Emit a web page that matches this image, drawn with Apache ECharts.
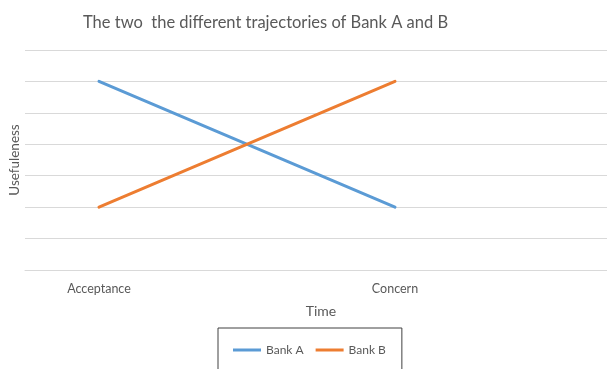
<!DOCTYPE html>
<html>
<head>
<meta charset="utf-8">
<script src="https://cdn.jsdelivr.net/npm/echarts@6/dist/echarts.min.js"></script>
<style>
html,body{margin:0;padding:0;background:#fff;overflow:hidden;width:607px;height:369px;}
#chart{width:617px;height:369px;}
</style>
</head>
<body>
<div id="chart"></div>
<script>
var categories = ["Acceptance", "", "Concern", ""];
var bankA = [6, null, 2, null];
var bankB = [2, null, 6, null];
var seriesNames = ["Bank A", "Bank B"];
var titleText = "The two  the different trajectories of Bank A and B";

var chart = echarts.init(document.getElementById('chart'), null, {renderer: 'canvas'});
var font = 'Lato, "Open Sans", sans-serif';
chart.setOption({
  animation: false,
  backgroundColor: '#ffffff',
  title: {
    text: titleText,
    left: 78,
    top: 9,
    textStyle: {fontFamily: font, fontSize: 16.5, fontWeight: 'normal', color: '#595959'}
  },
  legend: {
    data: seriesNames,
    left: 218,
    top: 328,
    padding: [16, 16, 25, 15],
    borderColor: '#404040',
    borderWidth: 1,
    icon: 'rect',
    itemWidth: 28,
    itemHeight: 3,
    itemGap: 12,
    textStyle: {fontFamily: font, fontSize: 12, color: '#595959'}
  },
  grid: {left: 25, right: 0, top: 50, height: 220, containLabel: false},
  xAxis: {
    type: 'category',
    data: categories,
    boundaryGap: true,
    name: 'Time',
    nameLocation: 'middle',
    nameGap: 34,
    nameTextStyle: {fontFamily: font, fontSize: 14, color: '#595959'},
    axisLine: {show: true, lineStyle: {color: '#d9d9d9', width: 1}},
    axisTick: {show: false},
    axisLabel: {interval: 0, margin: 12, fontFamily: font, fontSize: 12.5, color: '#595959'},
    splitLine: {show: false}
  },
  yAxis: {
    type: 'value',
    min: 0,
    max: 7,
    interval: 1,
    name: 'Usefuleness',
    nameLocation: 'middle',
    nameGap: 3,
    nameTextStyle: {fontFamily: font, fontSize: 13.5, color: '#595959'},
    axisLine: {show: false},
    axisTick: {show: false},
    axisLabel: {show: false},
    splitLine: {show: true, lineStyle: {color: '#d9d9d9', width: 1}}
  },
  series: [
    {
      name: seriesNames[0], type: 'line', data: bankA, connectNulls: true,
      showSymbol: false, symbol: 'none',
      lineStyle: {color: '#5B9BD5', width: 3, cap: 'round'},
      itemStyle: {color: '#5B9BD5'}
    },
    {
      name: seriesNames[1], type: 'line', data: bankB, connectNulls: true,
      showSymbol: false, symbol: 'none',
      lineStyle: {color: '#ED7D31', width: 3, cap: 'round'},
      itemStyle: {color: '#ED7D31'}
    }
  ]
});
</script>
</body>
</html>
